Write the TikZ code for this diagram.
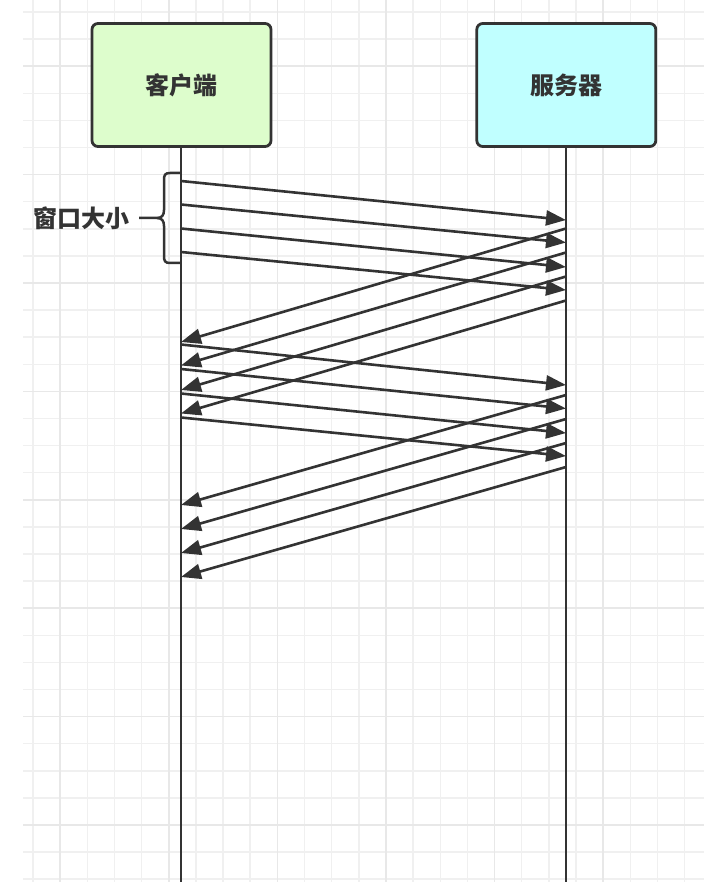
\documentclass[tikz,border=0pt]{standalone}
\usepackage{fontspec}
\newfontfamily\cjk{Noto Sans CJK SC}
\usepackage{xcolor}
\usetikzlibrary{arrows.meta,positioning,calc}

\definecolor{inkgray}{HTML}{333333}
\definecolor{gridminor}{HTML}{F0F0F0}
\definecolor{gridmajor}{HTML}{E8E8E8}
\definecolor{clientfill}{HTML}{DDFDCC}
\definecolor{serverfill}{HTML}{C0FFFF}

\begin{document}
\begin{tikzpicture}[x=1pt, y=-1pt,
  party/.style={rectangle, rounded corners=6pt, draw=inkgray, line width=2.8pt, minimum width=179pt, minimum height=123pt, text=inkgray, font=\cjk\bfseries\fontsize{24}{28}\selectfont},
  life/.style={draw=inkgray, line width=2.5pt},
  msg/.style={draw=inkgray, line width=2.6pt, -{Triangle[length=20pt, width=15pt]}},
  brace/.style={draw=inkgray, line width=2.5pt},
  winlabel/.style={inner sep=0pt, text=inkgray, font=\cjk\bfseries\fontsize{24}{28}\selectfont},
  minorline/.style={draw=gridminor, line width=1.5pt},
  majorline/.style={draw=gridmajor, line width=1.5pt}
]
\useasboundingbox (0,0) rectangle (704,882);

% Background grid
\foreach \k in {0,...,24} \draw[minorline] (33+27.15*\k,0) -- (33+27.15*\k,882);
\foreach \k in {0,...,32} \draw[minorline] (23,12+27.1*\k) -- (704,12+27.1*\k);
\foreach \k in {1,5,...,21} \draw[majorline] (33+27.15*\k,0) -- (33+27.15*\k,882);
\foreach \k in {2,6,...,30} \draw[majorline] (23,12+27.1*\k) -- (704,12+27.1*\k);

% Parties
\node[party, fill=clientfill] (client) at (181.5,85) {客户端};
\node[party, fill=serverfill] (server) at (566.3,85) {服务器};

% Lifelines
\coordinate (clientend) at (181,882);
\coordinate (serverend) at (566,882);
\draw[life] (client.south -| clientend) -- (clientend);
\draw[life] (server.south -| serverend) -- (serverend);

% Window brace
\coordinate (tip) at (139,218);
\draw[brace] (181,173) -- (170,173) .. controls (165,173) and (164,175) .. (164,180)
  -- (164,210) .. controls (164,215) and (162,218) .. (157,218) -- (tip);
\draw[brace] (157,218) .. controls (162,218) and (164,221) .. (164,226)
  -- (164,256) .. controls (164,261) and (165,263) .. (170,263) -- (181,263);
\node[winlabel, left=9pt of tip] (win) {窗口大小};

% First window: client -> server
\coordinate (cs1) at (181,181);   \coordinate (sr1) at (566,220);
\coordinate (cs2) at (181,204.5); \coordinate (sr2) at (566,242.5);
\coordinate (cs3) at (181,228.5); \coordinate (sr3) at (566,267);
\coordinate (cs4) at (181,252);   \coordinate (sr4) at (566,290);
\draw[msg] (cs1) -- (sr1);
\draw[msg] (cs2) -- (sr2);
\draw[msg] (cs3) -- (sr3);
\draw[msg] (cs4) -- (sr4);

% First acks: server -> client
\coordinate (ss1) at (566,228.5); \coordinate (cr1) at (181,342);
\coordinate (ss2) at (566,252.5); \coordinate (cr2) at (181,365.5);
\coordinate (ss3) at (566,276.5); \coordinate (cr3) at (181,390);
\coordinate (ss4) at (566,300.5); \coordinate (cr4) at (181,413.5);
\draw[msg] (ss1) -- (cr1);
\draw[msg] (ss2) -- (cr2);
\draw[msg] (ss3) -- (cr3);
\draw[msg] (ss4) -- (cr4);

% Second window: client -> server
\coordinate (cs5) at (181,344.5); \coordinate (sr5) at (566,385);
\coordinate (cs6) at (181,369);   \coordinate (sr6) at (566,408.5);
\coordinate (cs7) at (181,393.5); \coordinate (sr7) at (566,433);
\coordinate (cs8) at (181,417.5); \coordinate (sr8) at (566,456);
\draw[msg] (cs5) -- (sr5);
\draw[msg] (cs6) -- (sr6);
\draw[msg] (cs7) -- (sr7);
\draw[msg] (cs8) -- (sr8);

% Second acks: server -> client
\coordinate (ss5) at (566,395);   \coordinate (cr5) at (181,505);
\coordinate (ss6) at (566,419);   \coordinate (cr6) at (181,529);
\coordinate (ss7) at (566,443);   \coordinate (cr7) at (181,553);
\coordinate (ss8) at (566,467);   \coordinate (cr8) at (181,577);
\draw[msg] (ss5) -- (cr5);
\draw[msg] (ss6) -- (cr6);
\draw[msg] (ss7) -- (cr7);
\draw[msg] (ss8) -- (cr8);

\end{tikzpicture}
\end{document}
